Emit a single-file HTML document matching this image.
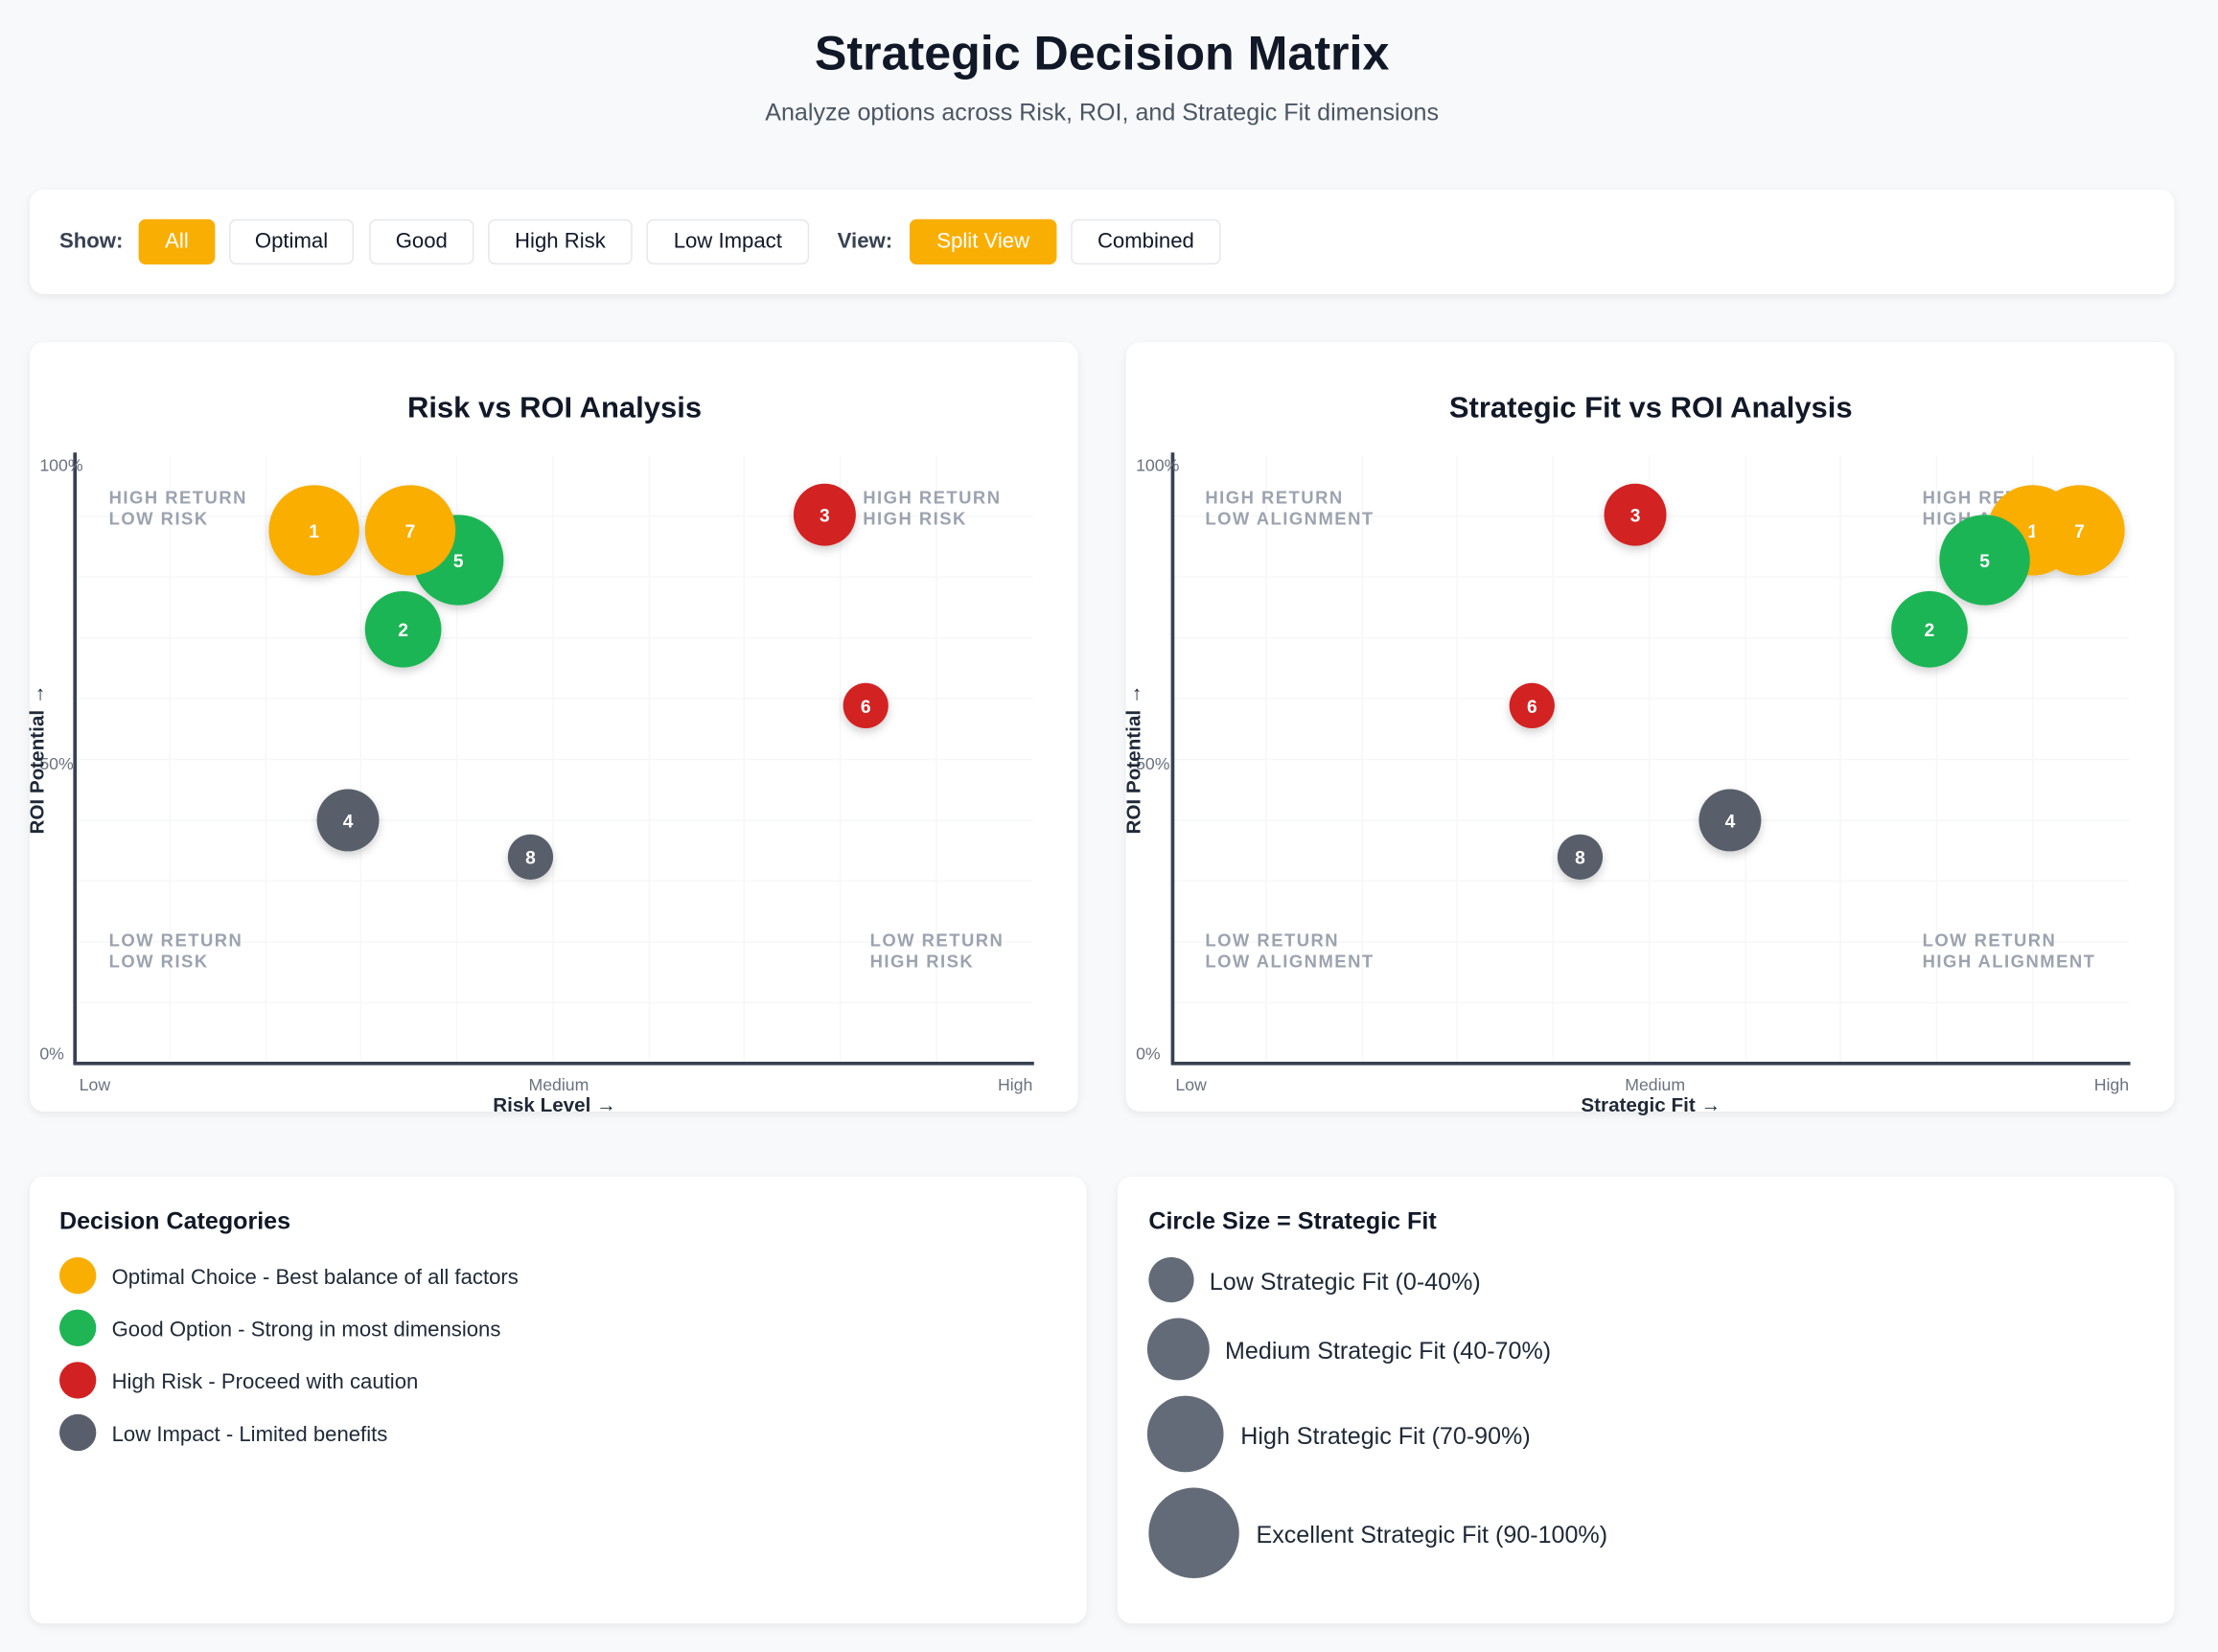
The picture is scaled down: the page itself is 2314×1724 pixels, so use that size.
<!DOCTYPE html>
<html><head><meta charset="utf-8"><style>
html,body{margin:0;padding:0;background:#f8f9fb;}
body{width:2314px;height:1724px;overflow:hidden;font-family:"Liberation Sans",sans-serif;}
#s{position:absolute;left:0;top:0;width:1568px;height:1168px;transform:scale(1.4758);transform-origin:0 0;}
.a{position:absolute;white-space:nowrap;}
.card{position:absolute;background:#fff;border-radius:10px;box-shadow:0 2px 6px rgba(0,0,0,0.07);}
.btn{position:absolute;top:155px;height:30px;border:1px solid #e5e7eb;border-radius:5px;background:#fff;font-size:15px;color:#111827;line-height:30px;text-align:center;}
.on{background:#f9ae04;border-color:#f9ae04;color:#fff;}
.lbl{position:absolute;top:155px;line-height:32px;font-size:15px;font-weight:bold;color:#374151;}
svg text{font-family:"Liberation Sans",sans-serif;}
</style></head><body><div id="s">
<div class="a" style="left:0;width:1558px;top:19px;text-align:center;font-size:34px;font-weight:bold;color:#111827;">Strategic Decision Matrix</div>
<div class="a" style="left:0;width:1558px;top:70px;text-align:center;font-size:17px;color:#4b5563;">Analyze options across Risk, ROI, and Strategic Fit dimensions</div>

<div class="card" style="left:21px;top:134px;width:1516px;height:74px;"></div>
<div class="lbl" style="left:42px;">Show:</div>
<div class="btn on" style="left:98px;width:52px;">All</div>
<div class="btn" style="left:162px;width:86px;">Optimal</div>
<div class="btn" style="left:261px;width:72px;">Good</div>
<div class="btn" style="left:345px;width:100px;">High Risk</div>
<div class="btn" style="left:457px;width:113px;">Low Impact</div>
<div class="lbl" style="left:592px;">View:</div>
<div class="btn on" style="left:643px;width:102px;">Split View</div>
<div class="btn" style="left:757px;width:104px;">Combined</div>

<div class="card" style="left:21px;top:242px;width:741px;height:544px;"></div>
<div class="card" style="left:796px;top:242px;width:741px;height:544px;"></div>
<div class="card" style="left:21px;top:832px;width:747px;height:316px;"></div>
<div class="card" style="left:790px;top:832px;width:747px;height:316px;"></div>

<svg class="a" style="left:0;top:0" width="1568" height="1168">
<defs><filter id="sh" x="-30%" y="-30%" width="160%" height="160%"><feDropShadow dx="0" dy="3" stdDeviation="3" flood-opacity="0.18"/></filter></defs>
<g id="L">
<text x="392" y="295" text-anchor="middle" font-size="21" font-weight="bold" fill="#111827">Risk vs ROI Analysis</text>
<g stroke="#f6f7f8" stroke-width="1">
<line x1="120" y1="322" x2="120" y2="752"/><line x1="188" y1="322" x2="188" y2="752"/><line x1="255" y1="322" x2="255" y2="752"/><line x1="323" y1="322" x2="323" y2="752"/><line x1="391" y1="322" x2="391" y2="752"/><line x1="459" y1="322" x2="459" y2="752"/><line x1="526" y1="322" x2="526" y2="752"/><line x1="594" y1="322" x2="594" y2="752"/><line x1="662" y1="322" x2="662" y2="752"/>
<line x1="53" y1="365" x2="730" y2="365"/><line x1="53" y1="408" x2="730" y2="408"/><line x1="53" y1="451" x2="730" y2="451"/><line x1="53" y1="494" x2="730" y2="494"/><line x1="53" y1="537" x2="730" y2="537"/><line x1="53" y1="580" x2="730" y2="580"/><line x1="53" y1="623" x2="730" y2="623"/><line x1="53" y1="666" x2="730" y2="666"/><line x1="53" y1="709" x2="730" y2="709"/>
</g>
<line x1="53" y1="320" x2="53" y2="753" stroke="#374151" stroke-width="2.5"/>
<line x1="52" y1="752" x2="731" y2="752" stroke="#374151" stroke-width="2.5"/>
<g font-size="12" fill="#6b7280"><text x="28" y="333">100%</text><text x="28" y="544">50%</text><text x="28" y="749">0%</text>
<text x="56" y="771">Low</text><text x="395" y="771" text-anchor="middle">Medium</text><text x="730" y="771" text-anchor="end">High</text></g>
<text x="392" y="786" text-anchor="middle" font-size="14" font-weight="bold" fill="#1f2937">Risk Level →</text>
<text transform="translate(31,537) rotate(-90)" text-anchor="middle" font-size="14" font-weight="bold" fill="#1f2937">ROI Potential →</text>
<g font-size="12.5" font-weight="bold" fill="#9ca3af" letter-spacing="1">
<text x="77" y="356">HIGH RETURN</text><text x="77" y="371">LOW RISK</text>
<text x="610" y="356">HIGH RETURN</text><text x="610" y="371">HIGH RISK</text>
<text x="77" y="669">LOW RETURN</text><text x="77" y="684">LOW RISK</text>
<text x="615" y="669">LOW RETURN</text><text x="615" y="684">HIGH RISK</text></g>
<g filter="url(#sh)" font-size="13" font-weight="bold" fill="#fff" text-anchor="middle">
<circle cx="222" cy="375" r="32" fill="#f9ae04"/><text x="222" y="380" fill="#fff">1</text>
<circle cx="324" cy="396" r="32" fill="#1fb555"/><text x="324" y="401" fill="#fff">5</text>
<circle cx="290" cy="375" r="32" fill="#f9ae04"/><text x="290" y="380" fill="#fff">7</text>
<circle cx="285" cy="445" r="27" fill="#1fb555"/><text x="285" y="450" fill="#fff">2</text>
<circle cx="583" cy="364" r="22" fill="#d22122"/><text x="583" y="369" fill="#fff">3</text>
<circle cx="612" cy="499" r="16" fill="#d22122"/><text x="612" y="504" fill="#fff">6</text>
<circle cx="246" cy="580" r="22" fill="#585e6b"/><text x="246" y="585" fill="#fff">4</text>
<circle cx="375" cy="606" r="16" fill="#585e6b"/><text x="375" y="611" fill="#fff">8</text>
</g></g>

<g>
<text x="1167" y="295" text-anchor="middle" font-size="21" font-weight="bold" fill="#111827">Strategic Fit vs ROI Analysis</text>
<g stroke="#f6f7f8" stroke-width="1">
<line x1="895" y1="322" x2="895" y2="752"/><line x1="963" y1="322" x2="963" y2="752"/><line x1="1030" y1="322" x2="1030" y2="752"/><line x1="1098" y1="322" x2="1098" y2="752"/><line x1="1166" y1="322" x2="1166" y2="752"/><line x1="1234" y1="322" x2="1234" y2="752"/><line x1="1301" y1="322" x2="1301" y2="752"/><line x1="1369" y1="322" x2="1369" y2="752"/><line x1="1437" y1="322" x2="1437" y2="752"/>
<line x1="829" y1="365" x2="1505" y2="365"/><line x1="829" y1="408" x2="1505" y2="408"/><line x1="829" y1="451" x2="1505" y2="451"/><line x1="829" y1="494" x2="1505" y2="494"/><line x1="829" y1="537" x2="1505" y2="537"/><line x1="829" y1="580" x2="1505" y2="580"/><line x1="829" y1="623" x2="1505" y2="623"/><line x1="829" y1="666" x2="1505" y2="666"/><line x1="829" y1="709" x2="1505" y2="709"/>
</g>
<line x1="829" y1="320" x2="829" y2="753" stroke="#374151" stroke-width="2.5"/>
<line x1="828" y1="752" x2="1506" y2="752" stroke="#374151" stroke-width="2.5"/>
<g font-size="12" fill="#6b7280"><text x="803" y="333">100%</text><text x="803" y="544">50%</text><text x="803" y="749">0%</text>
<text x="831" y="771">Low</text><text x="1170" y="771" text-anchor="middle">Medium</text><text x="1505" y="771" text-anchor="end">High</text></g>
<text x="1167" y="786" text-anchor="middle" font-size="14" font-weight="bold" fill="#1f2937">Strategic Fit →</text>
<text transform="translate(806,537) rotate(-90)" text-anchor="middle" font-size="14" font-weight="bold" fill="#1f2937">ROI Potential →</text>
<g font-size="12.5" font-weight="bold" fill="#9ca3af" letter-spacing="1">
<text x="852" y="356">HIGH RETURN</text><text x="852" y="371">LOW ALIGNMENT</text>
<text x="1359" y="356">HIGH RETURN</text><text x="1359" y="371">HIGH ALIGNMENT</text>
<text x="852" y="669">LOW RETURN</text><text x="852" y="684">LOW ALIGNMENT</text>
<text x="1359" y="669">LOW RETURN</text><text x="1359" y="684">HIGH ALIGNMENT</text></g>
<g filter="url(#sh)" font-size="13" font-weight="bold" text-anchor="middle">
<circle cx="1437" cy="375" r="32" fill="#f9ae04"/><text x="1437" y="380" fill="#fff">1</text>
<circle cx="1470" cy="375" r="32" fill="#f9ae04"/><text x="1470" y="380" fill="#fff">7</text>
<circle cx="1403" cy="396" r="32" fill="#1fb555"/><text x="1403" y="401" fill="#fff">5</text>
<circle cx="1364" cy="445" r="27" fill="#1fb555"/><text x="1364" y="450" fill="#fff">2</text>
<circle cx="1156" cy="364" r="22" fill="#d22122"/><text x="1156" y="369" fill="#fff">3</text>
<circle cx="1083" cy="499" r="16" fill="#d22122"/><text x="1083" y="504" fill="#fff">6</text>
<circle cx="1223" cy="580" r="22" fill="#585e6b"/><text x="1223" y="585" fill="#fff">4</text>
<circle cx="1117" cy="606" r="16" fill="#585e6b"/><text x="1117" y="611" fill="#fff">8</text>
</g></g>

<text x="42" y="869" font-size="17" font-weight="bold" fill="#111827">Decision Categories</text>
<g font-size="15" fill="#1f2937">
<circle cx="55" cy="902" r="13" fill="#f9ae04"/><text x="79" y="908">Optimal Choice - Best balance of all factors</text>
<circle cx="55" cy="939" r="13" fill="#1fb555"/><text x="79" y="945">Good Option - Strong in most dimensions</text>
<circle cx="55" cy="976" r="13" fill="#d22122"/><text x="79" y="982">High Risk - Proceed with caution</text>
<circle cx="55" cy="1013" r="13" fill="#585e6b"/><text x="79" y="1019">Low Impact - Limited benefits</text>
</g>
<text x="812" y="869" font-size="17" font-weight="bold" fill="#111827">Circle Size = Strategic Fit</text>
<g font-size="17" fill="#1f2937">
<circle cx="828" cy="905" r="16" fill="#646b78"/><text x="855" y="912">Low Strategic Fit (0-40%)</text>
<circle cx="833" cy="954" r="22" fill="#646b78"/><text x="866" y="961">Medium Strategic Fit (40-70%)</text>
<circle cx="838" cy="1014" r="27" fill="#646b78"/><text x="877" y="1021">High Strategic Fit (70-90%)</text>
<circle cx="844" cy="1084" r="32" fill="#646b78"/><text x="888" y="1091">Excellent Strategic Fit (90-100%)</text>
</g>
</svg>
</div></body></html>
